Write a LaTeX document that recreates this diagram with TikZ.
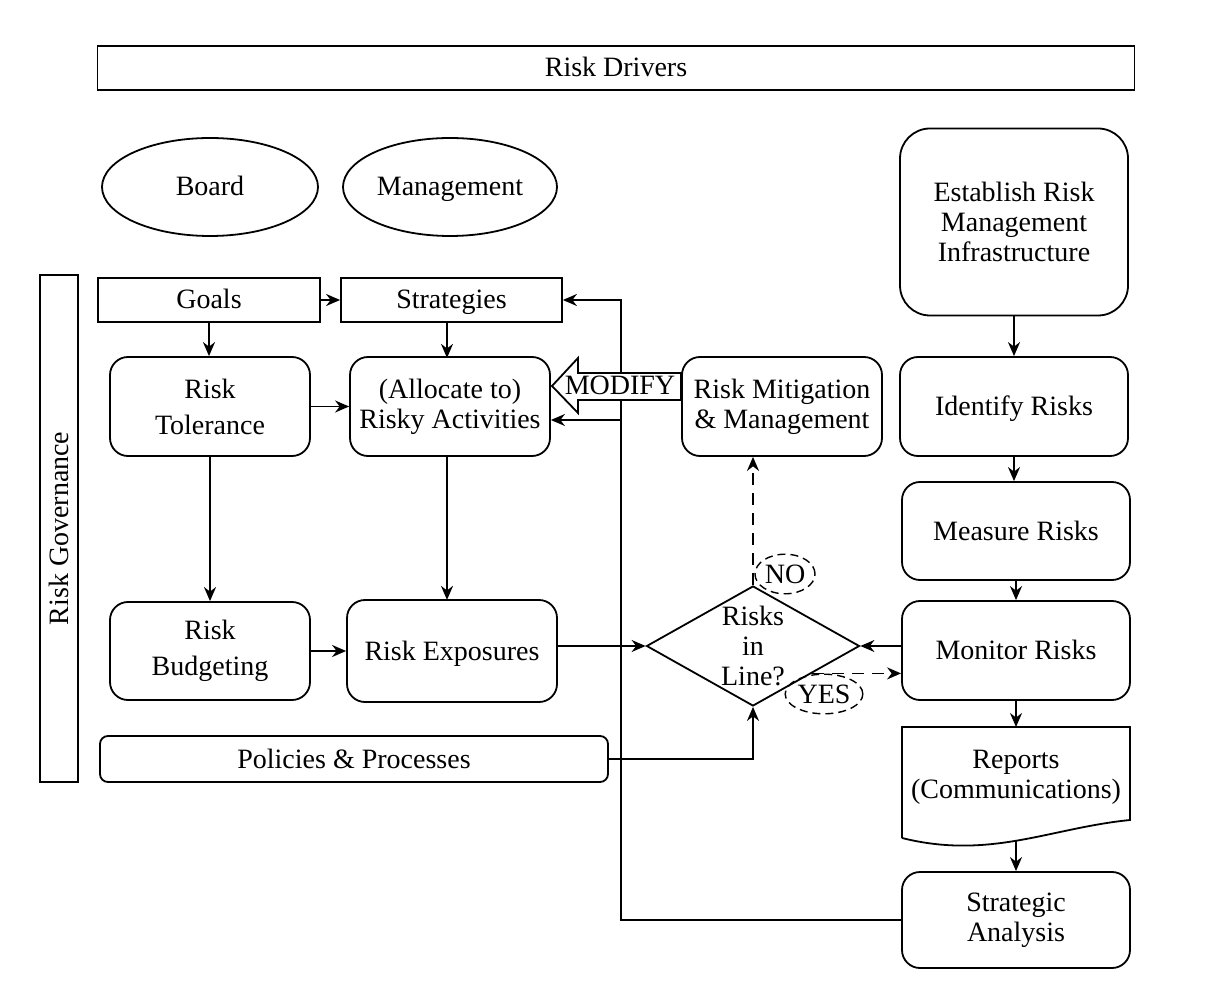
\documentclass[tikz,border=0pt]{standalone}
\usepackage{fontspec}
\setmainfont{Liberation Serif}
\usetikzlibrary{shapes.geometric,arrows.meta,calc}
\begin{document}
\begin{tikzpicture}[x=0.5pt,y=-0.5pt,
  every node/.style={font=\fontsize{14}{15}\selectfont, align=center, inner sep=0pt},
  one/.style={text height=11pt, text depth=2pt},
  ln/.style={line width=0.9pt},
  sq/.style={draw, ln},
  rb/.style={draw, ln, rounded corners=9pt},
  ov/.style={draw, ln, ellipse},
  arr/.style={ln, -{Stealth[length=7pt,width=6pt]}},
  darr/.style={arr, dashed, dash pattern=on 6pt off 4pt},
  lab/.style={draw, ellipse, line width=0.7pt, dash pattern=on 4pt off 2.5pt, inner sep=0.5pt, one}]
\useasboundingbox (0,0) rectangle (1220,988);
\fill[white] (0,0) rectangle (1220,988);

\node[sq, one, minimum width=518.5pt, minimum height=22pt] (drv) at (616,68) {Risk Drivers};
\node[ov, one, minimum width=108pt, minimum height=49pt] (board) at (210,187) {Board};
\node[ov, one, minimum width=107pt, minimum height=49pt] (mgmt) at (450,187) {Management};
\node[rb, rounded corners=15pt, minimum width=114pt, minimum height=93.5pt] (est) at (1014,222) {Establish Risk\\Management\\Infrastructure};
\node[sq, one, rotate=90, minimum width=253.5pt, minimum height=19pt] (gov) at (59,528.5) {Risk Governance};

\node[sq, one, minimum width=111pt, minimum height=22pt] (goals) at (209,300) {Goals};
\node[sq, one, minimum width=110.5pt, minimum height=22pt] (strat) at (451.5,300) {Strategies};
\node[rb, minimum width=100pt, minimum height=49.5pt] (tol) at (210,406.5) {Risk\\[3pt]Tolerance};
\node[rb, minimum width=100pt, minimum height=49.5pt] (alloc) at (450,406.5) {(Allocate to)\\Risky Activities};
\node[rb, minimum width=100pt, minimum height=49.5pt] (mit) at (782,406.5) {Risk Mitigation\\\& Management};
\node[rb, one, minimum width=114pt, minimum height=49.5pt] (ident) at (1014,406.5) {Identify Risks};
\node[rb, one, minimum width=114pt, minimum height=49pt] (meas) at (1016,531) {Measure Risks};
\node[rb, one, minimum width=114pt, minimum height=49.5pt] (mon) at (1016,650.5) {Monitor Risks};
\node[minimum width=114pt, minimum height=56.5pt] (rep) at (1016,783.5) {};
\draw[ln] (902,838) -- (902,727) -- (1130,727) -- (1130,820) .. controls (1050,828) and (990,860) .. (902,838);
\node (reptxt) at (1016,777) {Reports\\(Communications)};
\node[rb, minimum width=114pt, minimum height=48pt] (sa) at (1016,920) {Strategic\\Analysis};
\node[rb, minimum width=100pt, minimum height=49pt] (bud) at (210,651) {Risk\\[3pt]Budgeting};
\node[rb, one, minimum width=105pt, minimum height=51pt] (expo) at (452,651) {Risk Exposures};
\node[rb, one, rounded corners=4pt, minimum width=254pt, minimum height=23pt] (pol) at (354,759) {Policies \& Processes};
\node[draw, ln, diamond, aspect=1.775, minimum width=106.5pt, minimum height=60pt] (dec) at (753,646) {};
\node (dectxt) at (753,646) {Risks\\in\\Line?};

% left column connectors
\draw[arr] (goals.east) -- (strat.west);
\draw[arr] (goals.south) -- (goals.south |- tol.north);
\draw[arr] (strat.south -| alloc.north) ++(-3,0) -- ++(0,35);
\draw[arr] (tol.east) -- (alloc.west);
\draw[arr] (tol.south) -- (tol.south |- bud.north);
\draw[arr] (alloc.south) ++(-3,0) -- ++(0,143);
\draw[arr] (bud.east) -- (bud.east -| expo.west);
\draw[arr] (expo.east |- dec.west) -- (dec.west);
\draw[arr] (mon.west |- dec.east) -- (dec.east);
\draw[arr] (pol.east) -| (dec.south);
\draw[darr] (dec.north) -- (dec.north |- mit.south);
\coordinate (yesstart) at ($(dec.east)!0.45!(dec.south)$);
\draw[darr] (yesstart) -- (yesstart -| mon.west);
\node[lab] (no) at (785,574) {NO};
\node[lab] (yes) at (824,694) {YES};

% right column
\draw[arr] (est.south) -- (est.south |- ident.north);
\draw[arr] (ident.south) -- (ident.south |- meas.north);
\draw[arr] (meas.south) -- (mon.north);
\draw[arr] (mon.south) -- (mon.south |- 0,727);
\draw[arr] (rep.south) -- (sa.north);

% feedback
\coordinate (fb) at (621,300);
\coordinate (fb2) at (621,420);
\draw[arr] (sa.west) -| (fb) -- (strat.east);
\draw[arr] (fb2) -- (fb2 -| alloc.east);

% MODIFY arrow
\draw[ln, fill=white] (mit.west |- 0,373) -- (578,373) -- (578,358) -- (552,386) -- (578,413) -- (578,400) -- (mit.west |- 0,400) -- cycle;
\node[one] (modtxt) at (620,386) {MODIFY};
\end{tikzpicture}
\end{document}
